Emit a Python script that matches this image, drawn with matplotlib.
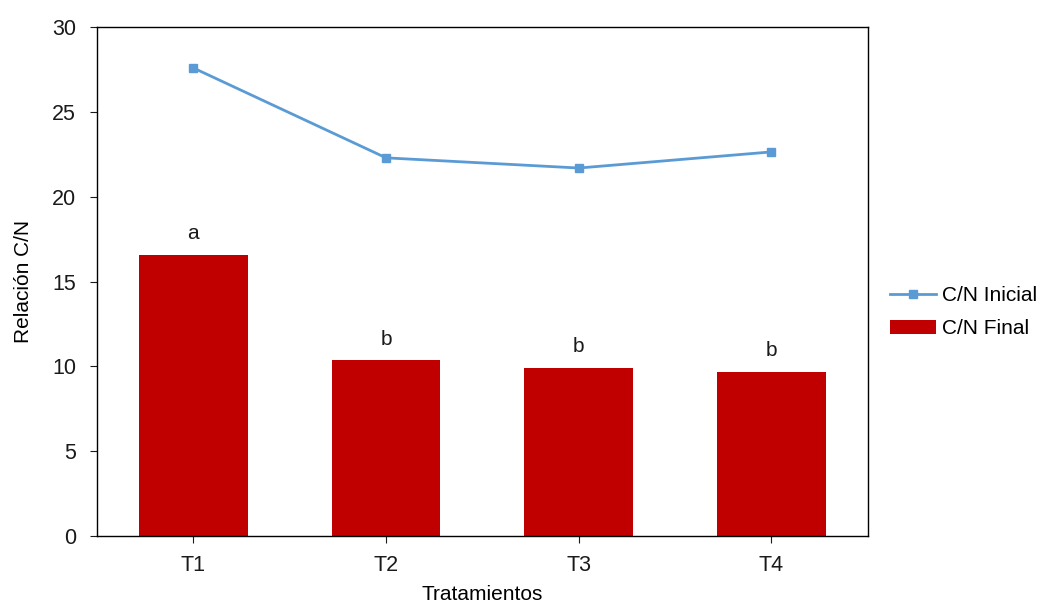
import numpy as np
import matplotlib.pyplot as plt

plt.rcParams['font.family'] = ['Liberation Sans', 'DejaVu Sans']

tratamientos = ['T1', 'T2', 'T3', 'T4']
cn_inicial = [27.6, 22.3, 21.7, 22.65]
cn_final = [16.55, 10.35, 9.9, 9.65]
letras = ['a', 'b', 'b', 'b']

fig = plt.figure(figsize=(10.48, 6.06), dpi=100)
ax = fig.add_axes([0.0926, 0.1155, 0.7354, 0.8395])

x = np.arange(len(tratamientos))
ax.bar(x, cn_final, width=0.565, color='#C00000', label='C/N Final', zorder=2)
ax.plot(x, cn_inicial, color='#5B9BD5', lw=2, marker='s', ms=6, label='C/N Inicial', zorder=3)

for xi, v, l in zip(x, cn_final, letras):
    ax.text(xi, v + 0.7, l, ha='center', va='bottom', fontsize=15, color='#1a1a1a')

ax.set_xlim(-0.5, 3.5)
ax.set_ylim(0, 30)
ax.set_yticks(np.arange(0, 31, 5))
ax.set_xticks(x)
ax.set_xticklabels(tratamientos)
ax.tick_params(direction='out', labelsize=15.5, length=5, colors='#1a1a1a')
ax.tick_params(axis='x', pad=9)
ax.tick_params(axis='y', pad=10)
ax.set_xlabel('Tratamientos', fontsize=15, labelpad=6)
ax.set_ylabel('Relación C/N', fontsize=15, labelpad=14)
for s in ax.spines.values():
    s.set_linewidth(1.0)

ax.legend(loc='center left', bbox_to_anchor=(1.005, 0.44), frameon=False, fontsize=15,
          handlelength=2.2, labelspacing=0.7, handletextpad=0.3)

fig.savefig('out.png', dpi=100)
